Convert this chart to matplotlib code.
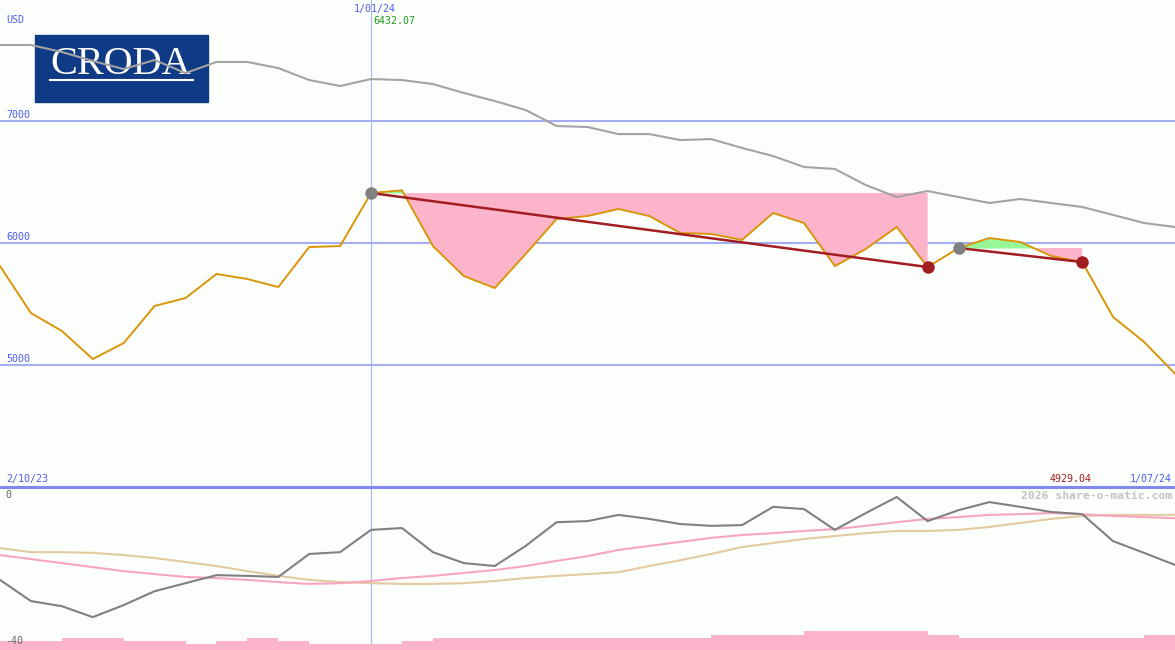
import matplotlib.pyplot as plt
import numpy as np
from matplotlib.patches import Rectangle
from matplotlib.lines import Line2D

# weekly closes, 2/10/23 - 1/07/24
close = [5811, 5426, 5279, 5049, 5180, 5484, 5549, 5746, 5705, 5639,
         5967, 5975, 6410, 6432, 5975, 5729, 5631, 5910, 6197, 6221,
         6279, 6221, 6082, 6074, 6025, 6246, 6164, 5811, 5951, 6131,
         5803, 5959, 6041, 6008, 5893, 5844, 5393, 5189, 4929]

# long moving average (grey)
ma_long = [7623, 7623, 7566, 7492, 7426, 7500, 7393, 7484, 7484, 7434,
           7336, 7287, 7344, 7336, 7303, 7230, 7164, 7090, 6959, 6951,
           6893, 6893, 6844, 6852, 6779, 6713, 6623, 6607, 6475, 6377,
           6426, 6377, 6328, 6361, 6328, 6295, 6230, 6164, 6131]

# lower panel oscillator and its two averages
osc = [-21.6, -27.4, -28.8, -31.8, -28.5, -24.7, -22.5, -20.3, -20.5, -20.8,
       -14.5, -14.0, -7.9, -7.4, -14.0, -17.0, -17.8, -12.3, -5.8, -5.5,
       -3.8, -4.9, -6.3, -6.8, -6.6, -1.6, -2.2, -7.9, -3.3, 1.1,
       -5.5, -2.5, -0.3, -1.6, -3.0, -3.6, -11.0, -14.2, -17.5]
osc_fast = [-14.8, -15.9, -17.0, -18.1, -19.2, -20.0, -20.8, -21.1, -21.6, -22.2,
            -22.7, -22.5, -21.9, -21.1, -20.5, -19.7, -18.9, -17.8, -16.4, -15.1,
            -13.4, -12.3, -11.2, -10.1, -9.3, -8.8, -8.2, -7.7, -6.8, -5.8,
            -4.9, -4.4, -3.8, -3.6, -3.3, -3.6, -4.1, -4.4, -4.7]
osc_slow = [-12.9, -14.0, -14.0, -14.2, -14.8, -15.6, -16.7, -17.8, -19.2, -20.5,
            -21.6, -22.2, -22.5, -22.7, -22.7, -22.5, -21.9, -21.1, -20.5, -20.0,
            -19.5, -17.8, -16.2, -14.5, -12.6, -11.5, -10.4, -9.6, -8.8, -8.2,
            -8.2, -7.9, -7.1, -6.0, -4.9, -4.1, -3.8, -3.8, -3.8]

# weekly volume (relative)
volume = [3, 3, 4, 4, 3, 3, 2, 3, 4, 3, 2, 2, 2, 3, 4, 4, 4, 4, 4, 4, 4, 4, 4,
          5, 5, 5, 6.3, 6.3, 6.3, 6.3, 5, 4, 4, 4, 4, 4, 4, 5]

# patterns: (start index, end index)
patterns = [(12, 30), (31, 35)]
marker_week = 12
gridlevels = [5000, 6000, 7000]

BG = '#fcfefc'
BLUE_TXT = '#4f5cf0'
GRID = '#a3adf2'
ORANGE = '#d9960a'
DARKRED = '#a21d22'
PINK = '#fbb4c9'
GREEN = '#98f898'

x = np.arange(len(close))
close_a = np.array(close, dtype=float)

fig = plt.figure(figsize=(11.75, 6.5), dpi=100, facecolor=BG)
ax = fig.add_axes([0, 163 / 650, 1, 487 / 650])
ax2 = fig.add_axes([0, 0, 1, 163 / 650])
for a in (ax, ax2):
    a.set_facecolor(BG)
    a.set_axis_off()
    a.set_xlim(0, len(close) - 1)
ax.set_ylim(4000, 7992)
ax2.set_ylim(-40.8, 3.84)

# logo
ax.add_patch(Rectangle((35 / 1175, 1 - 102 / 650), 173 / 1175, 67 / 650,
                       transform=fig.transFigure, color='#0f3a85', zorder=1))
ax.text(121 / 1175, 1 - 64 / 650, 'CRODA', transform=fig.transFigure,
        family='Liberation Serif', fontsize=29, color='white',
        ha='center', va='center', zorder=1.2)
ax.add_line(Line2D([50 / 1175, 193 / 1175], [1 - 80 / 650, 1 - 80 / 650],
                   transform=fig.transFigure, color='white', lw=1.5, zorder=1.2))

for g in gridlevels:
    ax.axhline(g, color=GRID, lw=1.5, zorder=1.5)
for a in (ax, ax2):
    a.axvline(marker_week, color='#a8b4ff', lw=0.8, zorder=1.5)

# pattern fills and trendlines
for s, e in patterns:
    lvl = close_a[s]
    xs = x[s:e + 1]
    ys = close_a[s:e + 1]
    ax.fill_between(xs, lvl, ys, where=ys <= lvl, interpolate=True,
                    color=PINK, lw=0, zorder=2)
    ax.fill_between(xs, lvl, ys, where=ys >= lvl, interpolate=True,
                    color=GREEN, lw=0, zorder=2)

ax.plot(x, ma_long, color='#a3a3a3', lw=1.5, zorder=3)
ax.plot(x, close, color=ORANGE, lw=1.4, zorder=4)
for s, e in patterns:
    ax.plot([s, e], [close[s], close[e]], color=DARKRED, lw=1.8, zorder=5)
    ax.plot(s, close[s], 'o', color='#808080', ms=9, mec='none', zorder=6)
    ax.plot(e, close[e], 'o', color=DARKRED, ms=9, mec='none', zorder=6)

# lower panel
ax2.plot(x, osc_slow, color='#e3cba0', lw=1.5, zorder=3)
ax2.plot(x, osc_fast, color='#f7a5c0', lw=1.5, zorder=3)
ax2.plot(x, osc, color='#808080', lw=1.5, zorder=4)
vax = ax2.twinx()
vax.set_axis_off()
vax.set_ylim(0, 163 / 3)
vax.bar(x[:-1], volume, width=1, align='edge', color=PINK, lw=0)

# separator
fig.add_artist(Line2D([0, 1], [163 / 650, 163 / 650], color='#7f89ee', lw=2.2))

# labels
mono = 'DejaVu Sans Mono'


def label(px, py, s, color=BLUE_TXT, ha='left', size=7.2, **kw):
    fig.text(px / 1175, 1 - py / 650, s, color=color, ha=ha, va='center',
             family=mono, fontsize=size, **kw)


label(6, 20, 'USD')
for g, py in zip(gridlevels, [359, 237, 115]):
    label(6, py, str(g))
label(375, 9, '1/01/24', ha='center')
label(373, 21, '6432.07', color='#1f9a1f')
label(6, 479, '2/10/23')
label(1092, 479, '4929.04', color=DARKRED, ha='right')
label(1172, 479, '1/07/24', ha='right')
label(1172, 496, '2026 share-o-matic.com', color='#c3c3c3', ha='right',
      size=8.2, weight='bold')
label(5, 495, '0', color='#666666')
label(5, 641, '-40', color='#666666')

fig.savefig('out.png', dpi=100, facecolor=BG)
